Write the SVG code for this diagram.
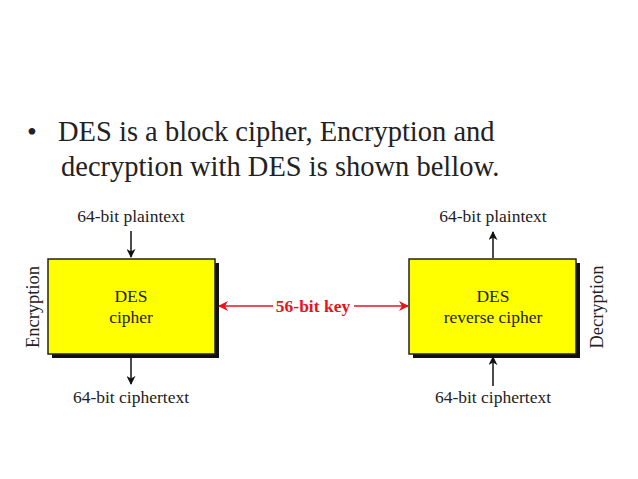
<svg xmlns="http://www.w3.org/2000/svg" width="638" height="479" viewBox="0 0 638 479">
<defs>
<style>
.t{font-family:"Liberation Serif","Times New Roman",serif;fill:#222}
.lbl{font-size:17.5px;text-anchor:middle}
.in{font-size:17.5px;text-anchor:middle}
.box{fill:#ffff00;stroke:#222;stroke-width:1.5}
.sh{fill:#111}
.ln{stroke:#111;stroke-width:1.5;fill:none}
.red{stroke:#e8141c;stroke-width:1.5;fill:none}
</style>
<marker id="ab" viewBox="0 0 10 10" refX="9" refY="5" markerWidth="9" markerHeight="9" orient="auto" markerUnits="userSpaceOnUse"><path d="M0,0 L10,5 L0,10 L3,5 z" fill="#111"/></marker>
<marker id="ar" viewBox="0 0 10 10" refX="9" refY="5" markerWidth="10" markerHeight="10" orient="auto" markerUnits="userSpaceOnUse"><path d="M0,0 L10,5 L0,10 L3,5 z" fill="#e8141c"/></marker>
</defs>
<rect width="638" height="479" fill="#fff"/>
<g id="bullet">
<text class="t" x="27" y="141" font-size="28">•</text>
<text class="t" x="58" y="141" font-size="28.5">DES is a block cipher, Encryption and</text>
<text class="t" x="61" y="176" font-size="28.5">decryption with DES is shown bellow.</text>
</g>
<g id="enc">
<rect class="sh" x="52" y="263" width="167" height="95"/>
<rect class="box" x="48" y="259" width="167" height="95"/>
<text class="t in" x="131" y="302">DES</text>
<text class="t in" x="131" y="323">cipher</text>
<text class="t lbl" x="131" y="222">64-bit plaintext</text>
<text class="t lbl" x="131" y="403">64-bit ciphertext</text>
<text class="t" transform="translate(39,307) rotate(-90)" font-size="18.5" text-anchor="middle">Encryption</text>
</g>
<g id="dec">
<rect class="sh" x="413" y="263" width="167" height="95"/>
<rect class="box" x="409" y="259" width="167" height="95"/>
<text class="t in" x="493" y="302">DES</text>
<text class="t in" x="493" y="323">reverse cipher</text>
<text class="t lbl" x="493" y="222">64-bit plaintext</text>
<text class="t lbl" x="493" y="403">64-bit ciphertext</text>
<text class="t" transform="translate(603,307) rotate(-90)" font-size="18.5" text-anchor="middle">Decryption</text>
</g>
<g id="connectors">
<line class="ln" x1="131" y1="231" x2="131" y2="257" marker-end="url(#ab)"/>
<line class="ln" x1="131" y1="356" x2="131" y2="384" marker-end="url(#ab)"/>
<line class="ln" x1="493" y1="258" x2="493" y2="232" marker-end="url(#ab)"/>
<line class="ln" x1="493" y1="386" x2="493" y2="357" marker-end="url(#ab)"/>
<line class="red" x1="273" y1="306" x2="219" y2="306" marker-end="url(#ar)"/>
<line class="red" x1="354" y1="306" x2="408" y2="306" marker-end="url(#ar)"/>
<text x="313" y="312" font-family="Liberation Serif,'Times New Roman',serif" font-weight="bold" font-size="17.5" fill="#e8141c" text-anchor="middle">56-bit key</text>
</g>
</svg>
